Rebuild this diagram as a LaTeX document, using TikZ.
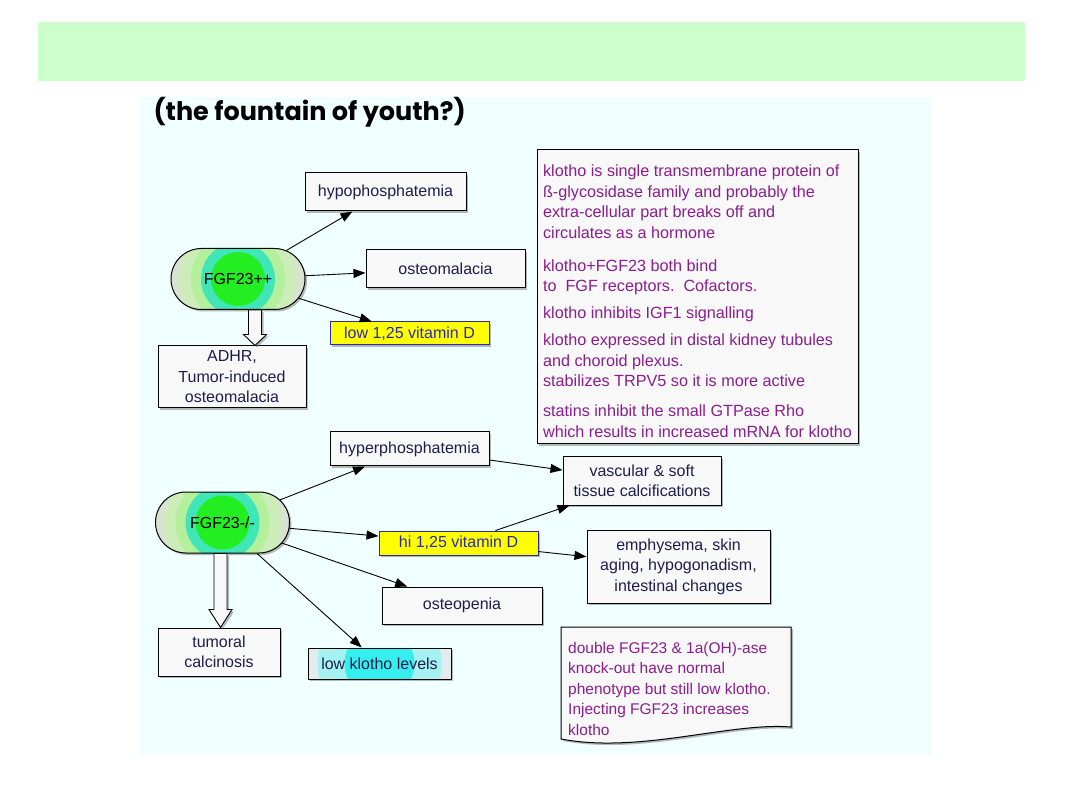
\documentclass[tikz,border=0pt]{standalone}
\usepackage{fontspec}
\setmainfont{Liberation Sans}
\newfontfamily\titlefont{Poppins}
\usetikzlibrary{calc,positioning,arrows.meta,shapes.misc,shadows}
\definecolor{banner}{HTML}{CCFFCC}
\definecolor{panel}{HTML}{F0FFFF}
\definecolor{boxfill}{HTML}{F8F8F8}
\definecolor{boxtext}{HTML}{1E1E4E}
\definecolor{plum}{HTML}{8A1E8F}
\definecolor{vitfill}{HTML}{FFFF00}
\definecolor{vitblue}{HTML}{2A2AB0}
\definecolor{ringa}{HTML}{22EE22}
\definecolor{ringb}{HTML}{40E6B8}
\definecolor{ringc}{HTML}{B4F09C}
\definecolor{ringd}{HTML}{CCEDB8}
\definecolor{ringe}{HTML}{D8E2D0}
\definecolor{cyana}{HTML}{36EEEE}
\definecolor{cyanb}{HTML}{A6F2F2}
\definecolor{cyanc}{HTML}{E2ECEC}
\newcommand{\boxfont}{\fontsize{16}{20.5}\selectfont}
\newcommand{\notefont}{\fontsize{15.5}{20.4}\selectfont}
\newcommand{\factfont}{\fontsize{16.2}{20.4}\selectfont}
% hollow block arrow: from node, to node, x offset, head length
\newcommand{\fatarrow}[4]{%
  \draw[hollow] let \p1=($(#1.south)+(#3,0)$), \p2=(#2.north) in
    (\x1-6.5pt,\y1) -- (\x1-6.5pt,\y2+#4) -- (\x1-11.5pt,\y2+#4) -- (\x1,\y2)
    -- (\x1+11.5pt,\y2+#4) -- (\x1+6.5pt,\y2+#4) -- (\x1+6.5pt,\y1) -- cycle;}
\tikzset{
  shad/.style={drop shadow={shadow xshift=2pt,shadow yshift=-2pt,fill=black!55}},
  box/.style={draw=black,line width=1pt,fill=boxfill,text=boxtext,font=\boxfont,align=center,inner sep=0pt,shad},
  vit/.style={box,fill=vitfill,draw=vitblue,text=vitblue},
  pill/.style={rounded rectangle,draw=black,line width=1pt,font=\boxfont,text=black,
    minimum width=134,minimum height=61,inner sep=0pt,shad,
    path picture={\foreach \r/\c in {70/ringe,58/ringd,47/ringc,37/ringb,27/ringa}
      \fill[\c] (path picture bounding box.center) circle[radius=\r pt];}},
  conn/.style={-{Triangle[length=12pt,width=9pt]},line width=0.9pt},
  hollow/.style={draw=black,line width=0.9pt,fill=boxfill,shad},
}
\begin{document}
\begin{tikzpicture}[x=1pt,y=-1pt]
\useasboundingbox (0,0) rectangle (1080,810);
\fill[banner] (38,22) rectangle (1025,81);
\fill[panel] (140,97) rectangle (932,755);
\node[anchor=west,font=\titlefont\bfseries\fontsize{25.5}{30}\selectfont] (title) at (150,112) {(the fountain of youth?)};

% top half
\node[box,minimum width=161,minimum height=38] (hypo) at (385.5,192) {hypophosphatemia};
\node[pill] (fgfpp) at (238,279) {FGF23++};
\node[box,minimum width=159,minimum height=38] (osteo) at (445.5,269) {osteomalacia};
\node[vit,minimum width=159,minimum height=23] (lowd) at (409.5,333.5) {low 1,25 vitamin D};
\node[box,minimum width=148,minimum height=62] (adhr) at (232,377) {ADHR,\\Tumor-induced\\osteomalacia};
\node[box,text=plum,font=\factfont,align=left,minimum width=321,minimum height=294] (facts) at (697.5,297)
  {\rule{0pt}{20pt}klotho is single transmembrane protein of\\ß-glycosidase family and probably the\\extra-cellular part breaks off and\\circulates as a hormone\\[12.7pt]
   klotho+FGF23 both bind\\to\ \ FGF receptors.\ \ Cofactors.\\[6.7pt]
   klotho inhibits IGF1 signalling\\[6.7pt]
   klotho expressed in distal kidney tubules\\and choroid plexus.\\stabilizes TRPV5 so it is more active\\[9.7pt]
   statins inhibit the small GTPase Rho\\which results in increased mRNA for klotho};

% bottom half
\node[box,minimum width=159,minimum height=34] (hyper) at (409.5,449) {hyperphosphatemia};
\node[box,minimum width=158,minimum height=48] (vasc) at (642,481) {vascular \& soft\\tissue calcifications};
\node[pill] (fgfmm) at (222.5,522.5) {FGF23-/-};
\node[vit,minimum width=159,minimum height=24] (hid) at (458.5,543) {hi 1,25 vitamin D};
\node[box,minimum width=183,minimum height=73] (emph) at (678.5,566.5) {emphysema, skin\\aging, hypogonadism,\\intestinal changes};
\node[box,minimum width=160,minimum height=37] (osteop) at (462,605.5) {osteopenia};
\node[box,minimum width=122,minimum height=48] (tumor) at (219,652) {tumoral\\calcinosis};
\node[box,minimum width=143,minimum height=31,
  path picture={\foreach \r/\c in {80/cyanc,62/cyanb,35/cyana}
    \fill[\c] (path picture bounding box.center) circle[radius=\r pt];}] (klow) at (379.5,663.5) {low klotho levels};

% note with wavy bottom
\filldraw[fill=boxfill,draw=black,line width=1pt,shad] (561,627) -- (791,627) -- (791,727)
  .. controls (730,722) and (640,754) .. (561,739) -- cycle;
\node[anchor=north west,text=plum,font=\notefont,align=left,inner sep=0pt] (note) at (568,642)
  {double FGF23 \& 1a(OH)-ase\\knock-out have normal\\phenotype but still low klotho.\\Injecting FGF23 increases\\klotho};

% connectors
\draw[conn] (fgfpp) -- (hypo);
\draw[conn] (fgfpp) -- (osteo);
\draw[conn] (fgfpp) -- (lowd);
\draw[conn] (fgfmm) -- (hyper);
\draw[conn] (fgfmm) -- (hid);
\draw[conn] (fgfmm) -- (osteop);
\draw[conn] (fgfmm) -- (klow);
\draw[conn] (hyper) -- (vasc);
\draw[conn] (hid) -- (vasc);
\draw[conn] (hid) -- (emph);
\fatarrow{fgfpp}{adhr}{17}{11pt}
\fatarrow{fgfmm}{tumor}{-2}{18pt}
\end{tikzpicture}
\end{document}
